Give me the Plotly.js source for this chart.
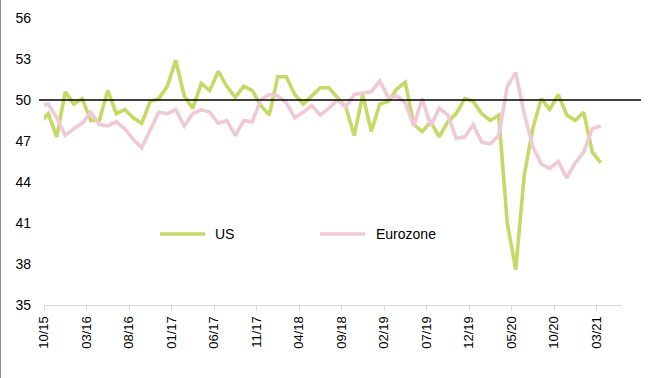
<!DOCTYPE html>
<html>
<head>
<meta charset="utf-8">
<script src="https://cdn.plot.ly/plotly-3.0.1.min.js"></script>
<style>
  html, body { margin: 0; padding: 0; background: #fff; }
  #chart { width: 650px; height: 378px; }
</style>
</head>
<body>
<div id="chart"></div>
<script>
// Monthly periods (first entry lies just before the visible axis start and is clipped)
const months = [
  "09/15",
  "10/15","11/15","12/15","01/16","02/16","03/16","04/16","05/16","06/16","07/16","08/16","09/16",
  "10/16","11/16","12/16","01/17","02/17","03/17","04/17","05/17","06/17","07/17","08/17","09/17",
  "10/17","11/17","12/17","01/18","02/18","03/18","04/18","05/18","06/18","07/18","08/18","09/18",
  "10/18","11/18","12/18","01/19","02/19","03/19","04/19","05/19","06/19","07/19","08/19","09/19",
  "10/19","11/19","12/19","01/20","02/20","03/20","04/20","05/20","06/20","07/20","08/20","09/20",
  "10/20","11/20","12/20","01/21","02/21","03/21"
];
const usValues = [
  48.3,
  49.0,47.3,50.6,49.7,50.1,48.5,48.5,50.7,49.0,49.3,48.7,48.3,
  49.9,50.1,51.0,52.9,50.3,49.4,51.2,50.7,52.1,51.0,50.2,51.0,
  50.7,49.6,48.9,51.7,51.7,50.4,49.7,50.3,50.9,50.9,50.2,49.5,
  47.4,50.4,47.7,49.7,49.9,50.8,51.3,48.2,47.7,48.4,47.3,48.4,
  49.0,50.1,49.9,49.0,48.5,48.9,41.0,37.6,44.5,47.9,50.1,49.3,
  50.4,48.9,48.5,49.1,46.2,45.4
];
const euroValues = [
  49.6,
  49.7,48.7,47.4,47.9,48.3,49.1,48.2,48.1,48.4,47.9,47.1,46.5,
  47.8,49.1,49.0,49.3,48.1,49.0,49.3,49.1,48.3,48.5,47.4,48.5,
  48.4,50.0,50.4,50.3,49.8,48.7,49.1,49.6,48.9,49.4,50.0,49.5,
  50.4,50.5,50.6,51.4,50.2,50.3,49.8,48.1,50.1,48.1,49.4,48.9,
  47.2,47.3,48.2,46.9,46.8,47.4,51.0,52.0,49.0,46.6,45.3,45.0,
  45.5,44.3,45.4,46.2,47.9,48.1
];
const tickLabels = ["10/15","03/16","08/16","01/17","06/17","11/17","04/18","09/18","02/19","07/19","12/19","05/20","10/20","03/21"];
const yTicks = [35,38,41,44,47,50,53,56];
const refLevel = 50;
const seriesNames = ["US","Eurozone"];
const seriesColors = ["#c6d866","#f0c9d6"];

// Position: the first visible month (10/15) starts at 0; points sit mid-month.
const startIdx = months.indexOf("10/15");
const xs = months.map((m, i) => i - startIdx + 0.5);
const tickVals = tickLabels.map(t => months.indexOf(t) - startIdx);

const W = 650, H = 378;
const M = {l: 44, r: 28, t: 18, b: 73};
const plotW = W - M.l - M.r, plotH = H - M.t - M.b;
const px2x = px => (px - M.l) / plotW;
const py2y = py => (H - M.b - py) / plotH;
const yMin = 35, yMax = 56;

const font = "Liberation Sans, Arial, sans-serif";

const traces = [
  {x: xs, y: usValues, name: seriesNames[0], type: "scatter", mode: "lines",
   line: {color: seriesColors[0], width: 3.6, shape: "linear"}, hoverinfo: "skip"},
  {x: xs, y: euroValues, name: seriesNames[1], type: "scatter", mode: "lines",
   line: {color: seriesColors[1], width: 3.6, shape: "linear"}, hoverinfo: "skip"}
];

const refY = (refLevel - yMin) / (yMax - yMin);

const shapes = [
  {type: "line", xref: "paper", yref: "paper", x0: px2x(39), x1: px2x(641), y0: refY, y1: refY,
   line: {color: "#000000", width: 1.3}},
  // legend samples
  {type: "line", xref: "paper", yref: "paper", x0: px2x(160), x1: px2x(205), y0: py2y(234), y1: py2y(234),
   line: {color: seriesColors[0], width: 3.6}},
  {type: "line", xref: "paper", yref: "paper", x0: px2x(320), x1: px2x(365), y0: py2y(234), y1: py2y(234),
   line: {color: seriesColors[1], width: 3.6}},
  // left frame edge
  {type: "line", xref: "paper", yref: "paper", x0: px2x(0.5), x1: px2x(0.5), y0: py2y(0), y1: py2y(H),
   line: {color: "#8c8c8c", width: 1}}
];

const annotations = [
  {xref: "paper", yref: "paper", x: px2x(213), y: py2y(234), xanchor: "left", yanchor: "middle",
   text: seriesNames[0], showarrow: false, font: {family: font, size: 14, color: "#000"}},
  {xref: "paper", yref: "paper", x: px2x(374), y: py2y(234), xanchor: "left", yanchor: "middle",
   text: seriesNames[1], showarrow: false, font: {family: font, size: 14, color: "#000"}}
];

const layout = {
  width: W, height: H,
  margin: M,
  paper_bgcolor: "#ffffff", plot_bgcolor: "#ffffff",
  showlegend: false,
  font: {family: font, color: "#000"},
  xaxis: {
    range: [0, 68], fixedrange: true,
    tickmode: "array", tickvals: tickVals, ticktext: tickLabels,
    tickangle: -90, tickfont: {family: font, size: 13, color: "#000"},
    ticks: "outside", ticklen: 5, tickcolor: "#d9d9d9", tickwidth: 1,
    showline: true, linecolor: "#d9d9d9", linewidth: 1,
    showgrid: false, zeroline: false
  },
  yaxis: {
    range: [yMin, yMax], fixedrange: true,
    tickmode: "array", tickvals: yTicks,
    tickfont: {family: font, size: 14, color: "#000"},
    ticks: "", ticklabelstandoff: 12,
    showline: false, showgrid: false, zeroline: false
  },
  shapes: shapes,
  annotations: annotations
};

Plotly.newPlot("chart", traces, layout, {displayModeBar: false, staticPlot: true});
</script>
</body>
</html>
